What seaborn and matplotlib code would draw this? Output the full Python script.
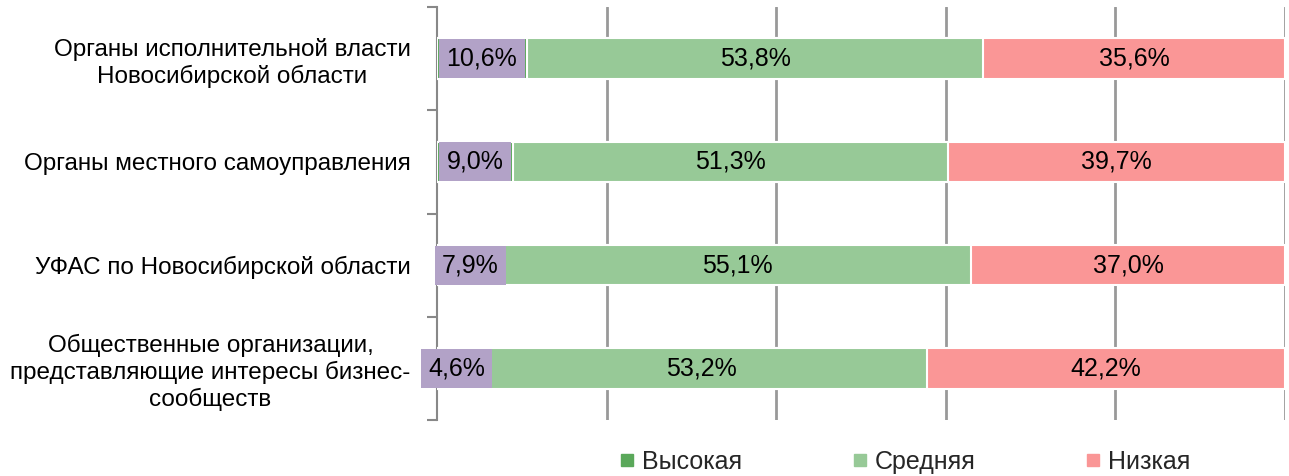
import numpy as np
import pandas as pd
import seaborn as sns
import matplotlib.pyplot as plt
from matplotlib.lines import Line2D

categories = [
    "Органы исполнительной власти\nНовосибирской области",
    "Органы местного самоуправления",
    "УФАС по Новосибирской области",
    "Общественные организации,\nпредставляющие интересы бизнес-\nсообществ",
]
high = [10.6, 9.0, 7.9, 4.6]
mid = [53.8, 51.3, 55.1, 53.2]
low = [35.6, 39.7, 37.0, 42.2]
series_names = ["Высокая", "Средняя", "Низкая"]

c_high = "#5AA85A"
c_mid = "#97C997"
c_low = "#FA9696"
c_label = "#B2A2C7"

sns.set_theme(style="white")
plt.rcParams["font.family"] = ["Liberation Sans", "DejaVu Sans"]

df = pd.DataFrame({"cat": categories, "high": high, "mid": mid, "low": low})
df["cum_mid"] = df["high"] + df["mid"]
df["cum_low"] = df["cum_mid"] + df["low"]

fig = plt.figure(figsize=(12.89, 4.76), dpi=100)
ax = fig.add_axes([437 / 1289, 1 - 420 / 476, 848 / 1289, 413 / 476])

# vertical gridlines behind the bars
for gx in np.arange(20, 101, 20):
    ax.axvline(gx, color="#999999", lw=2, zorder=0)

bw = 0.39
kw = dict(width=bw, orient="h", edgecolor="white", linewidth=1.5,
          saturation=1, ax=ax)
sns.barplot(data=df, x="cum_low", y="cat", color=c_low, zorder=2, **kw)
sns.barplot(data=df, x="cum_mid", y="cat", color=c_mid, zorder=3, **kw)
sns.barplot(data=df, x="high", y="cat", color=c_high, zorder=4, **kw)

def fmt(v):
    return f"{v:.1f}".replace(".", ",") + "%"

for i in range(len(categories)):
    ax.text(high[i] / 2, i, fmt(high[i]), ha="center", va="center", fontsize=18,
            color="black", zorder=6,
            bbox=dict(boxstyle="square,pad=0.3", fc=c_label, ec="none"))
    ax.text(high[i] + mid[i] / 2, i, fmt(mid[i]), ha="center", va="center",
            fontsize=18, color="black", zorder=6)
    ax.text(high[i] + mid[i] + low[i] / 2, i, fmt(low[i]), ha="center",
            va="center", fontsize=18, color="black", zorder=6)

ax.set_xlim(0, 100)
ax.set_ylim(3.5, -0.5)
ax.set_xlabel("")
ax.set_ylabel("")
ax.set_xticks([])
ax.set_yticks(range(len(categories)))
ax.set_yticklabels(categories, fontsize=17.5, multialignment="center")
ax.set_yticks(np.arange(-0.5, 4, 1), minor=True)
ax.tick_params(axis="y", which="major", length=0, pad=19, colors="black")
ax.tick_params(axis="y", which="minor", length=7, width=1.5, color="#888888", left=True)
for s in ["top", "right", "bottom"]:
    ax.spines[s].set_visible(False)
ax.spines["left"].set_color("#888888")
ax.spines["left"].set_linewidth(1.5)
ax.set_facecolor("white")

handles = [Line2D([], [], marker="s", ls="none", color=c, markersize=9)
           for c in [c_high, c_mid, c_low]]
fig.legend(handles, series_names, loc="center", bbox_to_anchor=(0.702, 0.03),
           ncol=3, frameon=False, fontsize=18, handlelength=0.6,
           handletextpad=0.3, columnspacing=4.4)

fig.savefig("out.png", dpi=100, facecolor="white")
